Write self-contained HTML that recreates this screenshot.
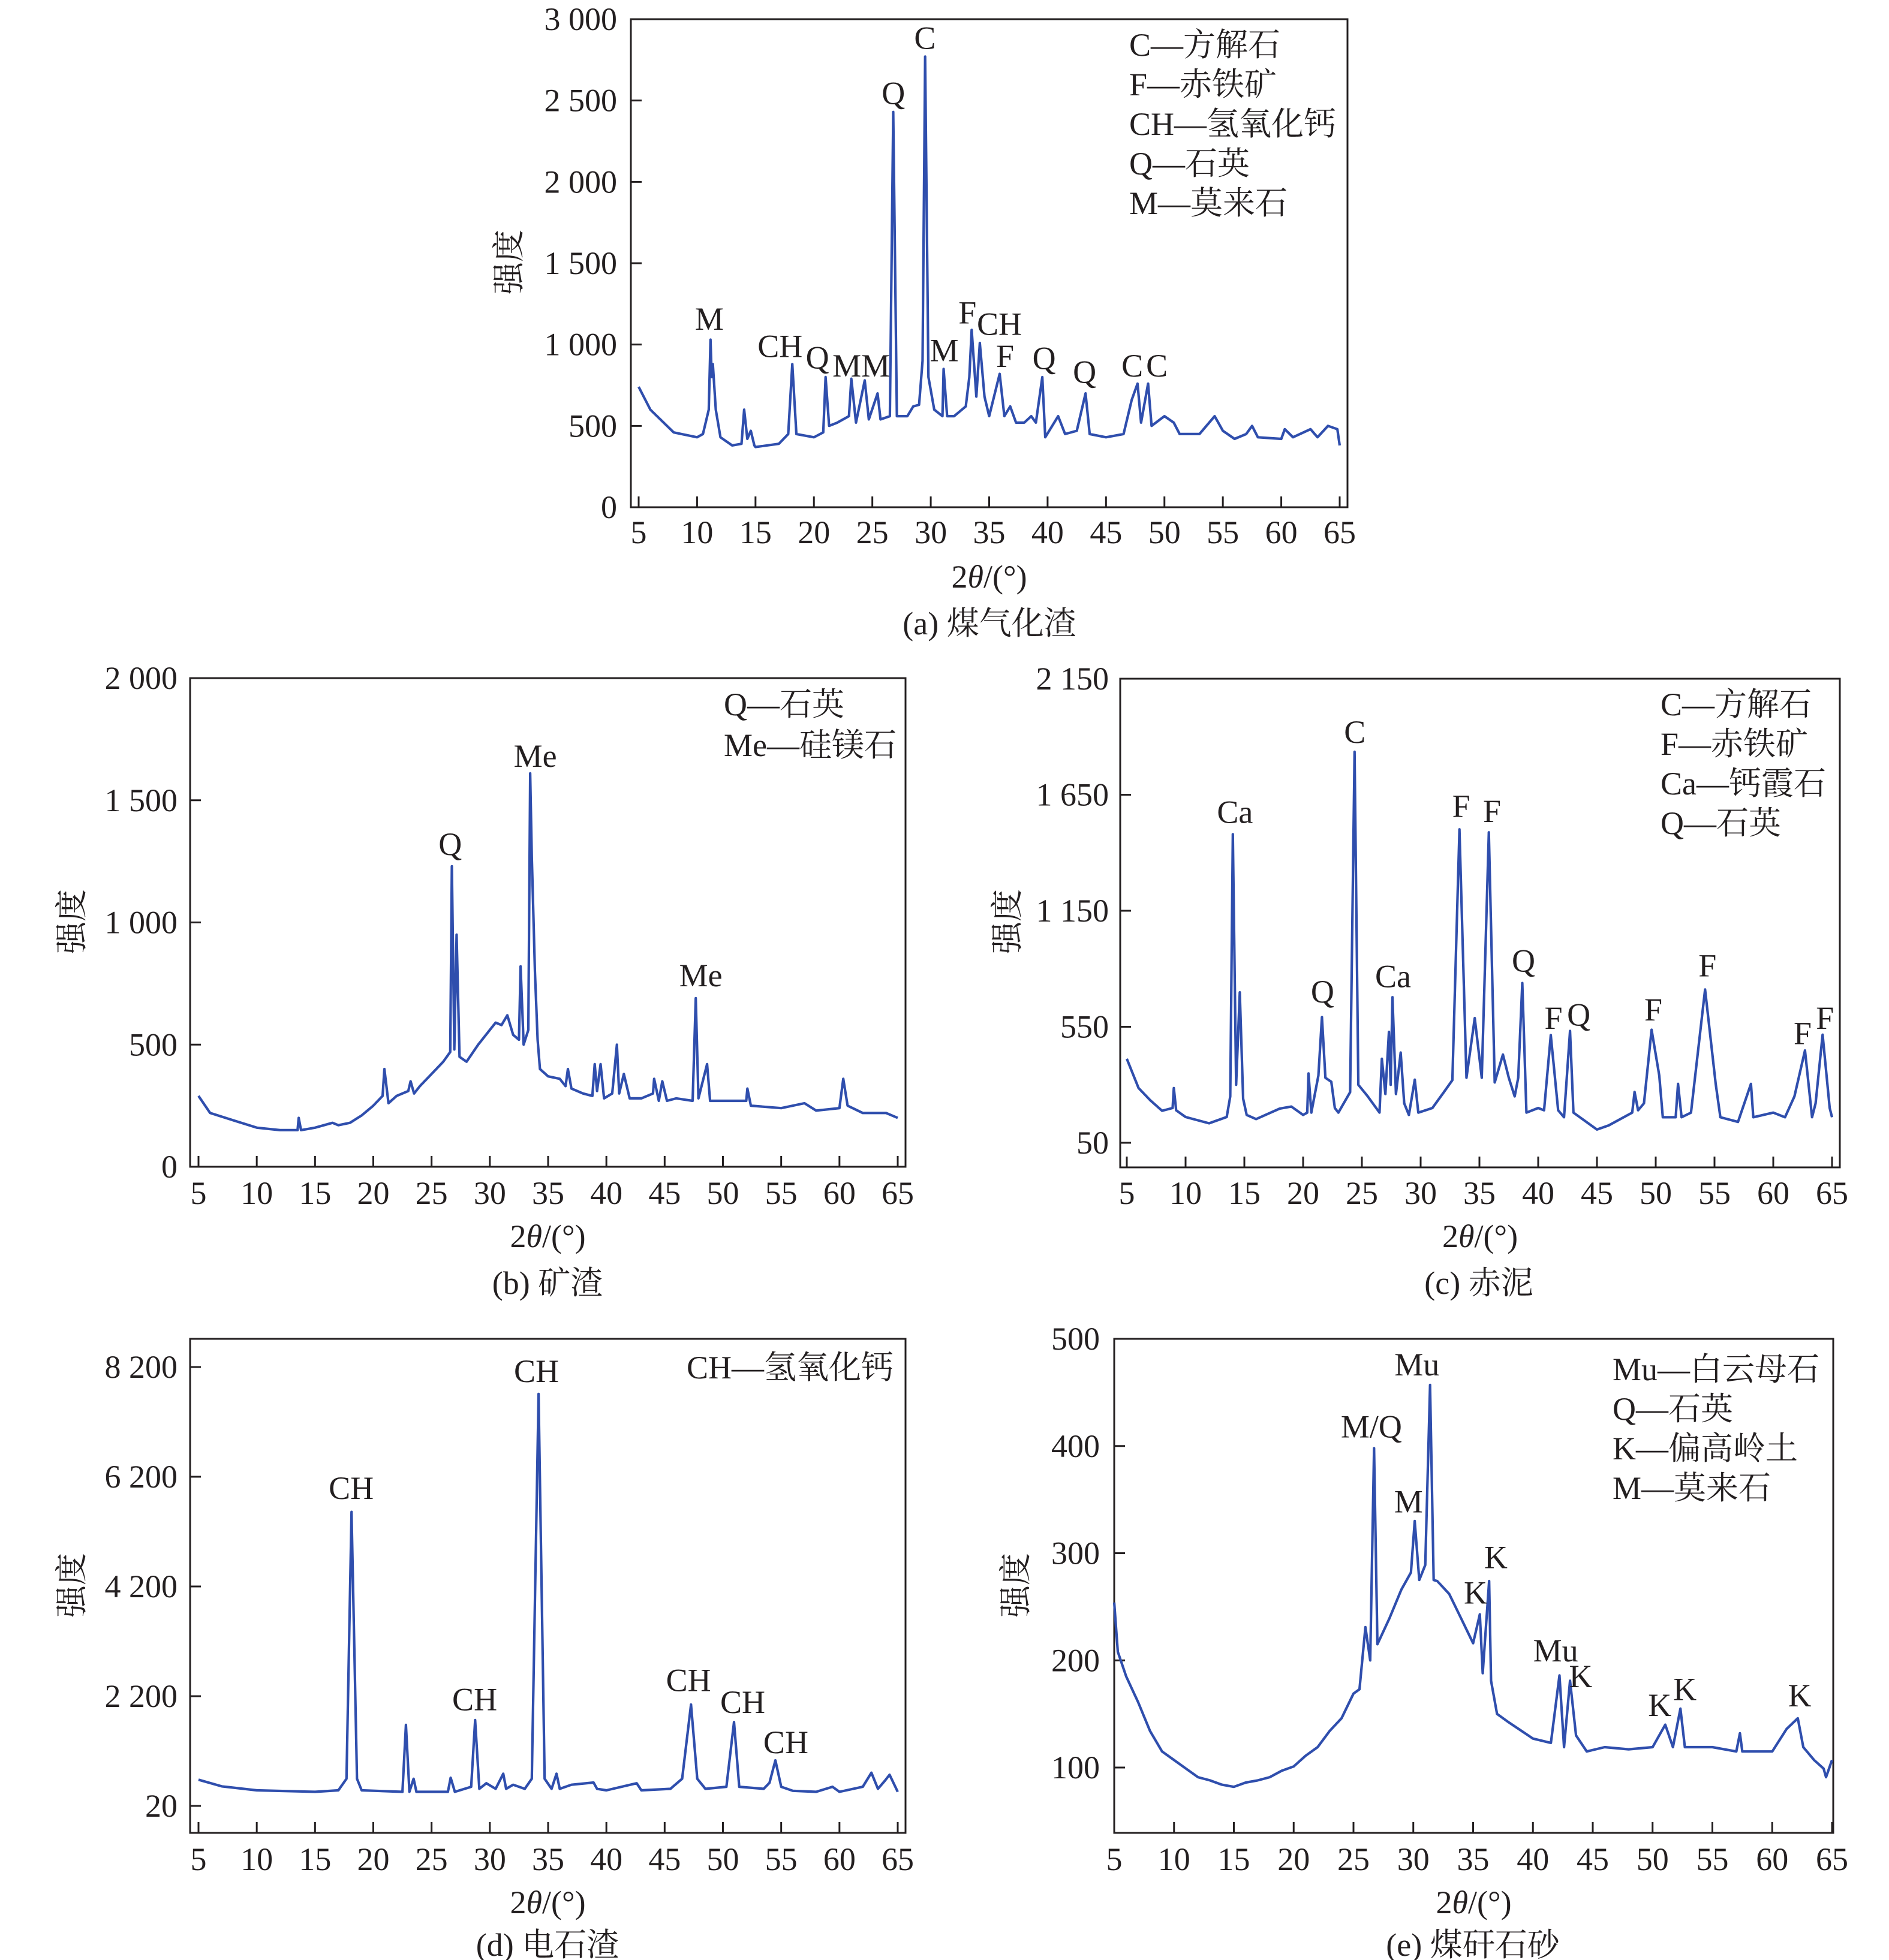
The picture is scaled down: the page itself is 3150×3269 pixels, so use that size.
<!DOCTYPE html>
<html><head><meta charset="utf-8">
<style>
html,body{margin:0;padding:0;background:#fff;}
svg{display:block;}
text{font-family:"Liberation Serif","Noto Serif CJK SC",serif;fill:#231f20;}
</style></head>
<body>
<svg id="fig" width="3150" height="3269" viewBox="0 0 3150 3269" xmlns="http://www.w3.org/2000/svg"></svg>
<script>
// ---------- data: panel (a) coal gasification slag ----------
const aX = [5,6,8,10,10.5,11,11.15,11.25,11.35,11.6,12,13,13.8,14.03,14.3,14.6,14.9,15,17,17.8,18.15,18.5,20,20.8,21.0,21.3,22,23,23.2,23.6,24.35,24.7,25.45,25.7,26.5,26.79,27.1,28,28.5,29,29.3,29.52,29.8,30.3,31,31.1,31.4,32,33,33.3,33.5,33.9,34.2,34.6,35,35.9,36.3,36.8,37.3,38,38.6,39,39.55,39.8,40.9,41.5,42.5,43.25,43.6,45,46.5,47.2,47.7,48.0,48.6,48.9,50,50.8,51.3,53,54.3,55,56,57,57.5,58,60,60.3,61,62.5,63.1,64,64.8,65];
const aY = [740,600,460,430,450,600,1030,800,880,600,430,380,390,600,420,470,380,370,390,450,880,450,430,460,800,500,520,560,790,520,780,540,700,540,560,2430,560,560,620,630,900,2770,800,600,560,850,560,560,620,800,1090,680,1010,680,560,820,560,620,520,520,560,520,800,430,560,450,470,700,450,430,450,660,760,520,760,500,560,520,450,450,560,470,420,450,500,430,420,480,430,480,430,500,480,380];
const aTicks = [0,500,1000,1500,2000,2500,3000];
const aTickLabels = ["0","500","1 000","1 500","2 000","2 500","3 000"];
const aPeakText = ["M","CH","Q","MM","Q","C","M","F","CH","F","Q","Q","C","C"];
const aPeakX = [11.05,17.1,20.3,24.05,26.8,29.5,31.15,33.14,35.87,36.36,39.7,43.17,47.25,49.35];
const aPeakY = [1090,923,854,803,2478,2818,898,1130,1059,862,849,765,803,803];
const aLegend = ["C—方解石","F—赤铁矿","CH—氢氧化钙","Q—石英","M—莫来石"];

// ---------- data: panel (b) slag ----------
const bX = [5,6,8,10,12,13.5,13.6,13.8,15,16.5,17,18,19,20,20.8,20.95,21.3,22,23,23.2,23.5,24,25,26,26.6,26.74,26.95,27.15,27.4,28,29,30,30.5,31,31.5,32,32.5,32.64,32.9,33.3,33.46,33.6,33.87,34.1,34.3,35,36,36.5,36.7,37,38,38.8,39,39.2,39.5,39.8,40.5,40.9,41.1,41.5,42,43,44,44.1,44.5,44.8,45.2,46,47.4,47.67,47.9,48.64,48.9,50,52,52.1,52.4,55,57,58,60,60.33,60.7,62,64,65];
const bY = [290,220,190,160,150,150,200,150,160,180,170,180,210,250,290,400,260,290,310,350,300,330,380,430,470,1230,480,950,450,430,500,560,590,580,620,540,520,820,500,560,1610,1270,800,520,400,370,360,330,400,320,300,290,420,310,420,280,300,500,300,380,280,280,300,360,270,350,270,280,270,690,280,420,270,270,270,320,250,240,260,230,240,360,250,220,220,200];
const bTicks = [0,500,1000,1500,2000];
const bTickLabels = ["0","500","1 000","1 500","2 000"];
const bPeakText = ["Q","Me","Me"];
const bPeakX = [26.6,33.9,48.1];
const bPeakY = [1276,1637,739];
const bLegend = ["Q—石英","Me—硅镁石"];

// ---------- data: panel (c) red mud ----------
const cX = [5,6,7,8,8.9,9.0,9.2,10,12,13.5,13.8,14.02,14.3,14.61,14.9,15.2,16,18,19,20,20.35,20.46,20.7,21.3,21.6,21.9,22.4,22.7,23,24,24.38,24.7,25.5,26.5,26.7,27.0,27.3,27.45,27.6,27.9,28.3,28.6,29,29.5,29.8,31,32,32.7,33.3,33.9,34.6,35.2,35.8,36.3,37,37.5,38,38.3,38.65,39,40,40.5,41.07,41.7,42.2,42.71,43,45,46,48,48.2,48.5,49,49.65,50.3,50.6,51.7,51.9,52.2,53,54.2,55.1,55.5,57,58.1,58.3,60,61,61.8,62.7,63.3,63.6,64.2,64.8,65];
const cY = [412,286,233,188,200,286,190,161,134,161,250,1480,300,728,240,170,152,197,206,170,180,349,180,340,600,330,313,200,180,268,1835,300,250,180,412,260,528,300,703,260,439,220,170,322,180,200,270,320,1501,330,595,330,1488,310,430,330,250,330,776,180,200,190,514,190,160,532,180,107,125,180,269,190,220,537,340,160,160,304,160,180,743,304,160,140,304,160,180,160,250,448,160,220,516,200,160];
const cTicks = [50,550,1150,1650,2150];
const cTickLabels = ["50","550","1 150","1 650","2 150"];
const cPeakText = ["Ca","Q","C","Ca","F","F","Q","F","Q","F","F","F","F"];
const cPeakX = [14.2,21.65,24.4,27.65,33.45,36.07,38.75,41.3,43.45,49.8,54.4,62.5,64.4];
const cPeakY = [1528,675,1874,754,1555,1533,836,541,556,582,810,475,541];
const cLegend = ["C—方解石","F—赤铁矿","Ca—钙霞石","Q—石英"];

// ---------- data: panel (d) carbide slag ----------
const dX = [5,7,10,15,17,17.7,18.13,18.6,19,22.5,22.8,23.1,23.46,23.7,26.4,26.64,27,28.4,28.74,29.1,29.7,30.5,31.15,31.4,32,33,33.6,34.18,34.7,35.3,35.72,36,37,38.9,39.2,40,42.6,43,45.5,46.5,47.26,47.8,48.5,50.3,50.95,51.4,53.5,54,54.5,55,56,58,59.4,60,62,62.74,63.3,63.9,64.3,65];
const dY = [540,408,330,300,330,560,5560,560,330,300,1630,300,560,300,300,580,300,400,1725,360,470,360,660,360,440,360,560,7710,560,360,660,360,440,485,360,330,470,330,360,560,2035,560,360,400,1687,400,360,480,925,400,320,300,400,300,400,680,360,520,640,300];
const dTicks = [20,2200,4200,6200,8200];
const dTickLabels = ["20","2 200","4 200","6 200","8 200"];
const dPeakText = ["CH","CH","CH","CH","CH","CH"];
const dPeakX = [18.1,28.7,34.0,47.05,51.7,55.4];
const dPeakY = [5795,1919,7927,2291,1865,1067];
const dLegend = ["CH—氢氧化钙"];

// ---------- data: panel (e) coal gangue sand ----------
const eX = [5,5.3,6,7,8,9,10,11,12,13,14,15,16,17,18,19,20,21,22,23,24,25,25.5,26.0,26.4,26.72,27,28,29,29.8,30.12,30.5,31,31.4,31.7,32,33,34,35,35.56,35.8,36.34,36.5,37,38,40,41.5,42.22,42.6,43.1,43.6,44.5,46,48,50,51.06,51.7,52.33,52.7,55,57,57.3,57.5,60,61.2,62.14,62.6,63.5,64.3,64.5,65];
const eY = [254,208,185,161,134,115,107,99,91,88,84,82,86,88,91,97,101,111,119,134,146,169,173,231,200,398,215,239,266,282,330,275,289,457,275,274,262,239,216,243,188,274,181,150,142,127,123,186,119,181,130,115,119,117,119,140,119,155,119,119,115,132,115,115,136,146,119,107,99,91,107];
const eTicks = [100,200,300,400,500];
const eTickLabels = ["100","200","300","400","500"];
const ePeakText = ["M/Q","Mu","M","K","K","Mu","K","K","K","K"];
const ePeakX = [26.5,30.3,29.6,35.2,36.9,41.9,44.0,50.6,52.7,62.3];
const ePeakY = [408,466,338,253,286,199,175,148,163,157];
const eLegend = ["Mu—白云母石","Q—石英","K—偏高岭土","M—莫来石"];

const xTickVals = [5,10,15,20,25,30,35,40,45,50,55,60,65];

// ---------- layout (pixels) ----------
const panels = [
 {id:"a", L:1052,R:2247,T:32,B:846, x5:1065,x65:2234, yLo:846,yHi:32, xs:aX, ys:aY, ticks:aTicks, tl:aTickLabels, pt:aPeakText, px:aPeakX, py:aPeakY, leg:aLegend, legX:1883, legY0:74, legDy:66, tlR:1029, xlY:888, atY:961, capY:1039, capX:1650, capT:"(a) 煤气化渣", ytX:849, ytY:437},
 {id:"b", L:317,R:1510,T:1131,B:1946, x5:331,x65:1497, yLo:1946,yHi:1131, xs:bX, ys:bY, ticks:bTicks, tl:bTickLabels, pt:bPeakText, px:bPeakX, py:bPeakY, leg:bLegend, legX:1207, legY0:1174, legDy:68, tlR:296, xlY:1990, atY:2061, capY:2139, capX:913, capT:"(b) 矿渣", ytX:120, ytY:1537},
 {id:"c", L:1868,R:3068,T:1132,B:1947, x5:1879,x65:3055, yLo:1906,yHi:1132, xs:cX, ys:cY, ticks:cTicks, tl:cTickLabels, pt:cPeakText, px:cPeakX, py:cPeakY, leg:cLegend, legX:2769, legY0:1174, legDy:66, tlR:1849, xlY:1990, atY:2061, capY:2139, capX:2466, capT:"(c) 赤泥", ytX:1680, ytY:1537, even:true},
 {id:"d", L:317,R:1510,T:2233,B:3057, x5:331,x65:1497, yLo:3012,yHi:2280, xs:dX, ys:dY, ticks:dTicks, tl:dTickLabels, pt:dPeakText, px:dPeakX, py:dPeakY, leg:dLegend, legX:1145, legY0:2280, legDy:66, tlR:296, xlY:3101, atY:3172, capY:3243, capX:913, capT:"(d) 电石渣", ytX:120, ytY:2644, even:true},
 {id:"e", L:1858,R:3057,T:2233,B:3057, x5:1858,x65:3055, yLo:2948,yHi:2233, xs:eX, ys:eY, ticks:eTicks, tl:eTickLabels, pt:ePeakText, px:ePeakX, py:ePeakY, leg:eLegend, legX:2689, legY0:2283, legDy:66, tlR:1834, xlY:3101, atY:3172, capY:3243, capX:2456, capT:"(e) 煤矸石砂", ytX:1694, ytY:2644}
];

const NS = "http://www.w3.org/2000/svg";
const svg = document.getElementById("fig");
function mk(tag, attrs, parent){
  const el = document.createElementNS(NS, tag);
  for (const k in attrs) el.setAttribute(k, attrs[k]);
  parent.appendChild(el);
  return el;
}
const FS = 54;

panels.forEach(p => {
  const g = mk("g", {}, svg);
  
  
  const xS = v => p.x5 + (v - 5) * (p.x65 - p.x5) / 60;
  const t = p.ticks, n = t.length;
  let yS;
  if (p.even) {
    const step = (p.yLo - p.yHi) / (n - 1);
    yS = v => {
      let i = 0;
      while (i < n - 2 && v > t[i + 1]) i++;
      return p.yLo - (i + (v - t[i]) / (t[i + 1] - t[i])) * step;
    };
  } else {
    yS = v => p.yLo - (v - t[0]) / (t[n - 1] - t[0]) * (p.yLo - p.yHi);
  }
  const fr = mk("rect", {x:p.L, y:p.T, width:p.R - p.L, height:p.B - p.T, fill:"none", stroke:"#231f20", "stroke-width":3}, g);
  
  
  xTickVals.forEach(v => {
    const x = xS(v);
    const tk = mk("line", {x1:x, x2:x, y1:p.B, y2:p.B - 18, stroke:"#231f20", "stroke-width":3}, g);
    
    
    const lb = mk("text", {x:x, y:p.xlY + 18, "font-size":FS, "text-anchor":"middle"}, g);
    lb.textContent = v;
    
    
  });
  t.forEach((v, i) => {
    const y = yS(v);
    const tk = mk("line", {x1:p.L, x2:p.L + 18, y1:y, y2:y, stroke:"#231f20", "stroke-width":3}, g);
    
    
    const lb = mk("text", {x:p.tlR, y:y + 18, "font-size":FS, "text-anchor":"end"}, g);
    lb.textContent = p.tl[i];
    
    
  });
  const pts = p.xs.map((x, i) => xS(x).toFixed(1) + "," + yS(p.ys[i]).toFixed(1)).join(" ");
  const line = mk("polyline", {points:pts, fill:"none", stroke:"#2f4ead", "stroke-width":4.2, "stroke-linejoin":"round"}, g);
  
  
  p.pt.forEach((s, i) => {
    const lb = mk("text", {x:xS(p.px[i]), y:yS(p.py[i]), "font-size":FS, "text-anchor":"middle"}, g);
    lb.textContent = s;
    
    
  });
  p.leg.forEach((s, i) => {
    const lb = mk("text", {x:p.legX, y:p.legY0 + i * p.legDy + 19, "font-size":FS}, g);
    lb.textContent = s;
    
    
  });
  const cx = (p.L + p.R) / 2;
  const at = mk("text", {x:cx, y:p.atY + 19, "font-size":FS, "text-anchor":"middle"}, g);
  at.innerHTML = '2<tspan font-style="italic">θ</tspan>/(°)';
  
  
  const yt = mk("text", {x:p.ytX, y:p.ytY, "font-size":FS, "text-anchor":"middle", transform:"rotate(-90 " + p.ytX + " " + p.ytY + ")", "dominant-baseline":"central"}, g);
  yt.textContent = "强度";
  
  
  const cp = mk("text", {x:p.capX, y:p.capY + 19, "font-size":FS, "text-anchor":"middle"}, g);
  cp.textContent = p.capT;
  
  
});
</script>
</body></html>
